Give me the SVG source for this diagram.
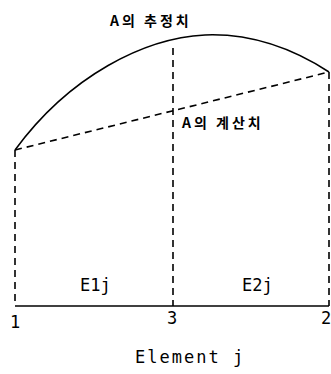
<svg xmlns="http://www.w3.org/2000/svg" width="331" height="374" viewBox="0 0 331 374">
<style>
.dash{stroke:#000;stroke-width:1.6;fill:none;stroke-dasharray:7,5}
.solid{stroke:#000;stroke-width:1.5;fill:none}
.ko{font-family:"Noto Sans CJK KR","Noto Sans",sans-serif;font-weight:bold;font-size:14px;letter-spacing:3px}
.lab{font-family:"DejaVu Sans Mono","Liberation Mono",monospace;font-size:17px}
</style>
<rect width="331" height="374" fill="#fff"/>
<g id="connectors">
<path class="solid" d="M15,150 C70,75 145,38 205,35 C255,33 295,50 329,72"/>
<path class="dash" d="M15,150 L329,72"/>
<path class="dash" d="M15,150 L15,306"/>
<path class="dash" d="M173,48 L173,306"/>
<path class="dash" d="M329,72 L329,306"/>
<path class="solid" d="M15,306 L329,306"/>
</g>
<g id="estimate"><text class="ko" x="110" y="26">A의 추정치</text></g>
<g id="computed"><text class="ko" x="182" y="128">A의 계산치</text></g>
<g id="e1"><text class="lab" x="80" y="291">E1j</text></g>
<g id="e2"><text class="lab" x="242" y="291">E2j</text></g>
<g id="n1"><text class="lab" x="10" y="328">1</text></g>
<g id="n3"><text class="lab" x="167" y="324">3</text></g>
<g id="n2"><text class="lab" x="321" y="324">2</text></g>
<g id="xlabel"><text class="lab" x="135" y="363" style="letter-spacing:2px">Element j</text></g>
</svg>
